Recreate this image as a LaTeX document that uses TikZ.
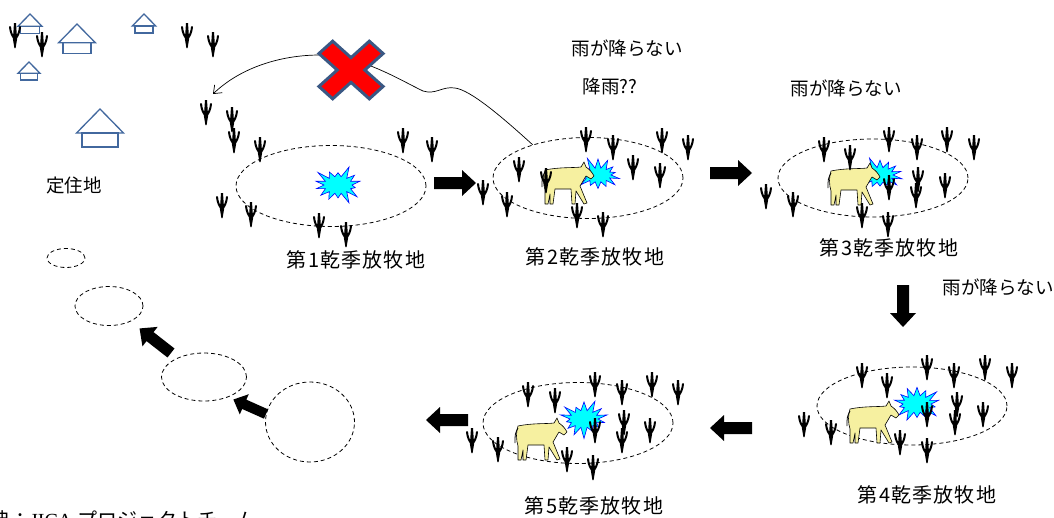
\documentclass[tikz,border=0pt]{standalone}
\usepackage{fontspec}
\setmainfont{Liberation Sans}
\newfontfamily\jp{Noto Sans CJK JP}
\newfontfamily\jpwide[LetterSpace=6]{Noto Sans CJK JP}
\newfontfamily\srcfont{Liberation Serif}
\usetikzlibrary{shapes.geometric,shapes.symbols,arrows.meta}

\definecolor{roofblue}{RGB}{66,104,158}
\definecolor{crossedge}{RGB}{58,88,132}
\definecolor{hide}{RGB}{246,240,160}
\definecolor{burstfill}{RGB}{0,255,255}

\tikzset{
  pics/tuft/.style={code={
    \fill (-0.6,0) -- (-2.1,-9) -- (-1,-25) -- (1,-25) -- (2.1,-9) -- (0.6,0) -- cycle;
    \draw[line width=2pt, line cap=round] (0,-9) .. controls (-3,-12) and (-4.5,-16) .. (-5,-21);
    \draw[line width=2pt, line cap=round] (0,-9) .. controls (3,-12) and (4.5,-16) .. (5,-21);
  }},
  pics/house/.style={code={
    \draw[roofblue, line width=1.3pt] (-23.5,24) -- (0,0) -- (23.5,24) -- cycle;
    \draw[roofblue, line width=1.3pt] (-18,24) rectangle (18,38);
  }},
  pics/cow/.style={code={
    \draw[fill=hide, line width=0.6pt, line join=round]
      (-22,-14) .. controls (-8,-17) and (6,-16) .. (14,-17)
      -- (17,-22) -- (19,-17)
      .. controls (22,-15) and (25,-12) .. (27,-8)
      -- (24,-5) -- (19,-8)
      .. controls (17,-5) and (15,-1) .. (13,2)
      -- (20,19) -- (17,20) -- (9,7)
      -- (8,20) -- (5,20) -- (4,5)
      -- (-12,5)
      -- (-14,20) -- (-17,20) -- (-17,10)
      -- (-19,20) -- (-22,20) -- (-22,6)
      .. controls (-24,0) and (-24,-9) .. cycle;
    \draw[line width=0.8pt] (-22,-12) .. controls (-25,-6) .. (-25,3);
  }},
  pics/blockarrow/.style={code={
    \fill (0,-6) -- (28,-6) -- (28,-13) -- (42,0) -- (28,13) -- (28,6) -- (0,6) -- cycle;
  }},
  pics/cross/.style={code={
    \draw[fill=red, draw=crossedge, line width=3pt, line join=miter,
          xscale=1.08, yscale=0.97, rotate=45]
      (-9,-33) -- (9,-33) -- (9,-9) -- (33,-9) -- (33,9) -- (9,9) -- (9,33)
      -- (-9,33) -- (-9,9) -- (-33,9) -- (-33,-9) -- (-9,-9) -- cycle;
  }}
}

\begin{document}
\begin{tikzpicture}[x=1pt, y=-1pt,
    field/.style={ellipse, draw, dash pattern=on 4pt off 3pt, line width=0.8pt,
                  minimum width=190pt, minimum height=81pt, inner sep=0pt},
    ring/.style={ellipse, draw, dash pattern=on 4pt off 3pt, line width=0.8pt, inner sep=0pt},
    burst/.style={starburst, starburst points=14, starburst point height=12pt,
                  fill=burstfill, draw=blue, line width=0.6pt,
                  minimum width=52pt, minimum height=41pt, inner sep=0pt},
    lbl/.style={font=\jpwide\fontsize{20}{22}\selectfont, inner sep=0pt},
    note/.style={font=\jp\fontsize{18.5}{20}\selectfont, inner sep=0pt}
]
\useasboundingbox (0,0) rectangle (1054,517);

% Settlement
\pic at (100,109) {house};
\pic[scale=0.78] at (77,24) {house};
\pic[scale=0.51] at (30,14) {house};
\pic[scale=0.5] at (144,14) {house};
\pic[scale=0.47] at (29,62) {house};
\node[note] (home) at (74,185) {定住地};

% Grazing grounds
\node[field] (f1) at (331,186) {};
\node[field] (f2) at (588,178) {};
\node[field, minimum height=78pt] (f3) at (873,178) {};
\node[field, minimum height=78pt] (f4) at (912,406) {};
\node[field] (f5) at (578,423) {};

% Later grounds
\node[ring, minimum width=89pt, minimum height=80pt] (e1) at (310,422) {};
\node[ring, minimum width=85pt, minimum height=48pt] (e2) at (204,377) {};
\node[ring, minimum width=68pt, minimum height=39pt] (e3) at (109,306) {};
\node[ring, minimum width=38pt, minimum height=19pt] (e4) at (66,258) {};

% Water points
\node[burst, random starburst=3] (b1) at (338,185) {};
\node[burst, random starburst=11, minimum width=50pt, minimum height=38pt] (b2) at (598,175) {};
\node[burst, random starburst=5, minimum width=50pt, minimum height=39pt] (b3) at (880,175) {};
\node[burst, random starburst=8] (b4) at (917,404) {};
\node[burst, random starburst=21] (b5) at (584,419) {};

% Cattle
\pic at (567,184) {cow};
\pic at (853,185) {cow};
\pic at (872,423) {cow};
\pic at (540,440) {cow};

% Grass
\foreach \x/\y in {15/48, 42/57, 187/48, 213/57, 206/125, 232/132, 234/153, 260/162,
                   403/153, 432/162, 222/218, 251/227, 319/238, 346/247}
    \pic at (\x,\y) {tuft};
\foreach \x/\y in {586/152, 613/160, 662/153, 688/160, 519/182, 633/180, 660/188,
                   546/193, 483/205, 507/217, 577/228, 603/237}
    \pic at (\x,\y) {tuft};
\foreach \x/\y in {824/162, 850/170, 889/152, 917/160, 947/152, 974/160, 918/192,
                   916/208, 945/198, 889/200, 766/209, 793/217, 862/228, 888/237}
    \pic at (\x,\y) {tuft};
\foreach \x/\y in {862/388, 887/398, 927/380, 954/388, 985/380, 1012/388, 804/437,
                   831/445, 957/417, 955/435, 983/427, 927/427, 900/455, 927/463}
    \pic at (\x,\y) {tuft};
\foreach \x/\y in {528/407, 555/413, 595/397, 622/405, 652/397, 678/405, 472/453,
                   498/462, 624/435, 622/453, 650/443, 595/443, 567/472, 593/480}
    \pic at (\x,\y) {tuft};

% Moves between grounds
\pic at (434,183) {blockarrow};
\pic at (710,173) {blockarrow};
\pic[rotate=-90] at (903,285) {blockarrow};
\pic[rotate=180] at (752,428) {blockarrow};
\pic[rotate=180] at (468,420) {blockarrow};
\pic[rotate=156, scale=0.85] at (266,414) {blockarrow};
\pic[rotate=142, scale=0.95] at (171,353) {blockarrow};

% Way back to the settlement, blocked
\coordinate (back) at (213,94);
\draw[line width=0.7pt, -{Straight Barb[length=7pt,width=11pt]}]
  (f2.149) .. controls (500,115) and (470,90) .. (455,88)
  .. controls (442,86) and (436,95) .. (423,91)
  .. controls (400,80) and (360,55) .. (320,55)
  .. controls (280,55) and (240,68) .. (back);
\pic at (351,70) {cross};

% Labels
\node[lbl] (l1) at (356,260) {第1乾季放牧地};
\node[lbl] (l2) at (595,257) {第2乾季放牧地};
\node[lbl] (l3) at (889,248) {第3乾季放牧地};
\node[lbl] (l4) at (927,495) {第4乾季放牧地};
\node[lbl] (l5) at (594,506) {第5乾季放牧地};
\node[note] (r1) at (627,48) {雨が降らない};
\node[note] (r2) at (610,86) {降雨??};
\node[note] (r3) at (846,88) {雨が降らない};
\node[note] (r4) at (998,287) {雨が降らない};

% Source line
\node[anchor=base west, inner sep=0pt, font=\fontsize{20}{22}\selectfont] (src) at (-30,527)
  {{\jp 出典：}{\srcfont JICA }{\jp プロジェクトチーム}};

\end{tikzpicture}
\end{document}
